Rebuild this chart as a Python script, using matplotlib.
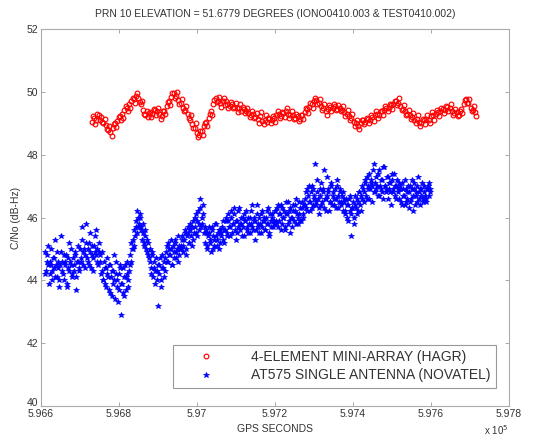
import numpy as np
import matplotlib
matplotlib.use("Agg")
import matplotlib.pyplot as plt
from matplotlib.ticker import FixedLocator, FuncFormatter
from matplotlib.transforms import ScaledTranslation

# ---------------- data ----------------
title_text = "PRN 10 ELEVATION = 51.6779 DEGREES (IONO0410.003 & TEST0410.002)"
xlabel_text = "GPS SECONDS"
ylabel_text = "C/No (dB-Hz)"
label_red = "4-ELEMENT MINI-ARRAY (HAGR)"
label_blue = "AT575 SINGLE ANTENNA (NOVATEL)"

# sampling (GPS seconds); the second array of each series is sampled in between
red_t0, red_dt = 596730, 6
blue_t0, blue_dt = 596610, 3

red_cn0_a = [
    49.05, 49.18, 49.12, 49.25,
    49.2, 49.02, 48.95, 48.8, 48.72,
    48.85, 49.0, 49.08, 49.22,
    49.3, 49.42, 49.5, 49.62, 49.7, 49.78, 49.88,
    49.8, 49.6, 49.42, 49.28,
    49.2, 49.35, 49.3, 49.42, 49.38,
    49.3, 49.22,
    49.4, 49.55, 49.7, 49.85, 49.95,
    49.88, 49.75, 49.65, 49.5, 49.42,
    49.3, 49.12, 48.98, 48.85, 48.7, 48.62,
    48.75, 48.9, 49.05, 49.18,
    49.4, 49.62, 49.8,
    49.72, 49.65, 49.7, 49.58, 49.62, 49.55, 49.6,
    49.52, 49.48, 49.5, 49.4, 49.45, 49.38,
    49.32, 49.25, 49.3, 49.2,
    49.15, 49.22, 49.08, 49.12, 49.05, 49.15, 49.1,
    49.18, 49.25, 49.3, 49.22, 49.32, 49.38,
    49.3, 49.25, 49.28, 49.18, 49.22, 49.15,
    49.28, 49.35, 49.45, 49.52, 49.6, 49.7, 49.75,
    49.65, 49.55, 49.48, 49.4,
    49.45, 49.52, 49.48, 49.55, 49.45, 49.5,
    49.42, 49.35, 49.3, 49.22, 49.18,
    49.05, 49.0, 48.92,
    49.0, 49.1, 49.05, 49.15, 49.12, 49.2,
    49.25, 49.3, 49.28, 49.38, 49.42, 49.5, 49.48, 49.58,
    49.6, 49.7, 49.66,
    49.55, 49.45, 49.4, 49.3, 49.28, 49.2,
    49.12, 49.15, 49.05, 49.02,
    49.1, 49.15, 49.12, 49.22, 49.25, 49.3, 49.35,
    49.38, 49.45, 49.42, 49.52, 49.48,
    49.4, 49.32, 49.35, 49.25,
    49.45, 49.62, 49.78,
    49.65, 49.5, 49.42, 49.35,
]

red_cn0_b = [
    49.22, 48.98, 49.3, 49.1,
    49.05, 49.15, 48.82, 48.9, 48.6,
    48.98, 48.88, 49.2, 49.1,
    49.18, 49.55, 49.38, 49.5, 49.82, 49.65, 49.98,
    49.68, 49.72, 49.3, 49.4,
    49.32, 49.2, 49.45, 49.28, 49.5,
    49.15, 49.38,
    49.3, 49.68, 49.58, 49.98, 49.82,
    50.0, 49.62, 49.78, 49.38, 49.55,
    49.18, 49.28, 48.85, 49.0, 48.58, 48.75,
    48.62, 49.02, 48.92, 49.3,
    49.28, 49.75, 49.68,
    49.85, 49.52, 49.82, 49.7, 49.48, 49.68, 49.48,
    49.65, 49.35, 49.62, 49.52, 49.32, 49.5,
    49.2, 49.38, 49.18, 49.32,
    49.02, 49.35, 48.98, 49.25, 49.18, 49.0, 49.22,
    49.05, 49.38, 49.18, 49.35, 49.2, 49.48,
    49.18, 49.38, 49.15, 49.3, 49.08, 49.28,
    49.15, 49.48, 49.32, 49.65, 49.48, 49.82, 49.62,
    49.78, 49.42, 49.6, 49.28,
    49.58, 49.4, 49.62, 49.42, 49.58, 49.38,
    49.55, 49.22, 49.42, 49.1, 49.3,
    48.92, 49.12, 48.82,
    49.12, 48.98, 49.18, 49.02, 49.25, 49.08,
    49.38, 49.18, 49.4, 49.25, 49.55, 49.38, 49.6, 49.45,
    49.72, 49.58, 49.8,
    49.42, 49.58, 49.28, 49.42, 49.15, 49.32,
    49.0, 49.28, 48.92, 49.15,
    48.98, 49.28, 49.0, 49.35, 49.12, 49.42, 49.22,
    49.5, 49.32, 49.55, 49.38, 49.6,
    49.28, 49.45, 49.22, 49.38,
    49.32, 49.75, 49.65,
    49.78, 49.38, 49.55, 49.22,
]

blue_cn0_a = [
    44.9, 44.3, 44.6, 45.1, 44.2, 44.5, 44.0, 44.7, 44.4, 45.3,
    44.1, 44.6, 43.8, 44.5, 44.9, 44.3, 44.0, 44.6, 44.8, 43.9,
    44.4, 45.2, 44.5, 44.1, 44.7, 44.3, 44.9, 43.7, 44.6, 44.4,
    45.0, 44.6, 45.7, 44.9, 44.4, 45.2, 44.7, 45.0, 44.5, 45.5,
    44.8, 44.3, 45.1, 44.9, 45.6, 44.6, 44.9,
    44.6, 44.2, 44.9, 44.0, 44.4, 43.8, 44.7, 44.1, 44.5, 43.6,
    44.3, 43.9, 44.8, 43.4, 44.2, 44.0, 43.7, 44.5, 42.9, 43.9,
    44.4, 43.5, 44.1, 44.6, 43.8, 44.3,
    44.8, 45.2, 45.0, 45.6, 45.4, 45.9, 46.2, 45.7, 46.0,
    45.6, 45.3, 45.8, 45.1, 45.4, 44.9, 45.2, 44.7,
    44.6, 44.2, 44.9, 44.4, 43.9, 44.7, 44.3, 43.2, 44.5, 44.0, 44.8, 44.4, 44.1,
    44.7, 45.1, 44.6, 45.0, 44.8, 45.3, 44.5, 44.9, 45.2, 44.7, 45.0, 45.4, 44.8,
    45.1, 45.4, 44.9, 45.3, 45.6, 45.0, 45.5, 45.2, 45.8, 45.4, 45.7, 45.3, 46.0, 45.5,
    45.9, 46.2, 45.6, 46.6, 45.8, 46.1, 45.5,
    45.2, 45.6, 45.0, 45.5, 45.3, 44.9, 45.7, 45.4, 45.1, 45.8, 45.3, 45.5, 45.0, 45.6,
    45.4, 45.9, 45.2,
    45.6, 46.0, 45.4, 45.9, 45.7, 46.2, 45.5, 45.8, 46.1, 45.3, 45.9, 45.7, 46.3, 45.6,
    45.8, 46.0, 45.4, 45.9, 46.2, 45.7, 45.5, 46.0, 45.8, 46.4, 45.6, 45.9, 45.3, 46.1,
    45.7, 46.0, 45.8, 45.5, 46.2, 45.9, 45.6, 46.0, 45.8, 46.3, 45.4, 45.9, 46.1, 45.7,
    45.9,
    46.2, 45.8, 46.4, 45.9, 46.1, 45.6, 46.3, 46.0, 45.7, 46.5, 46.1, 45.8, 46.2, 45.5,
    46.0, 46.4, 45.9, 46.2, 46.6, 45.8, 46.1, 46.3, 45.9, 46.5, 46.0,
    46.4, 46.8, 46.2, 46.7, 47.0, 46.5, 46.3, 46.9, 46.6, 47.7, 46.4, 46.8, 46.1, 46.7,
    47.1, 46.5, 46.9, 46.3, 46.6, 47.3, 46.8, 46.2, 46.5, 47.0, 46.7, 46.4, 46.9, 46.6,
    47.2, 46.3, 46.8, 46.5, 46.7, 46.2,
    46.5, 46.1, 46.4, 45.9, 46.6, 46.2, 45.4, 46.3, 46.0, 46.7, 46.3, 46.1, 46.5, 46.8,
    46.2, 46.6, 46.9,
    46.8, 47.2, 46.6, 47.0, 47.4, 46.9, 47.1, 46.5, 47.7, 46.8, 47.3, 47.0, 46.7, 47.5,
    46.9, 47.2, 46.6, 47.6, 47.0, 46.8, 47.3, 46.9, 47.1, 46.4, 47.4, 46.8, 47.0, 46.6,
    47.2, 46.9,
    46.6, 47.0, 46.4, 46.9, 46.7, 47.2, 46.5, 46.8, 46.3, 47.0, 46.6, 46.9, 46.2, 47.1,
    46.7, 46.5, 47.3, 46.8, 46.4, 46.9, 46.6, 47.0, 46.7, 46.5, 46.9, 47.1, 46.8,
]

blue_cn0_b = [
    44.2, 44.8, 44.5, 43.9, 44.6, 45.0, 44.3, 44.7, 44.1, 44.5,
    44.9, 44.4, 44.0, 45.4, 44.6, 44.2, 44.8, 44.5, 43.8, 44.7,
    44.3, 44.6, 45.0, 44.2, 44.5, 44.8, 44.1, 44.6, 45.1, 44.3,
    44.7, 45.3, 44.5, 45.0, 44.8, 45.8, 44.6, 45.2, 44.9, 44.4,
    45.1, 44.7, 45.4, 44.8, 45.0, 44.5, 45.2,
    44.8, 44.3, 44.0, 44.6, 43.9, 44.4, 44.2, 43.7, 44.5, 44.1,
    43.5, 44.3, 44.0, 44.6, 43.8, 43.3, 44.2, 44.4, 43.9, 43.6,
    44.1, 44.5, 43.7, 44.2, 44.0, 44.5,
    44.6, 45.0, 45.3, 45.1, 45.7, 45.5, 46.0, 45.8, 46.1,
    45.7, 45.5, 45.2, 45.6, 45.0, 45.3, 44.8, 45.0,
    44.4, 44.8, 44.1, 44.6, 44.3, 44.0, 44.5, 44.2, 44.7, 43.8, 44.4, 44.6, 44.3,
    44.9, 44.6, 45.2, 44.8, 45.0, 44.5, 45.1, 44.7, 45.3, 44.9, 44.6, 45.1, 45.0,
    45.0, 45.3, 45.1, 45.5, 44.8, 45.4, 45.7, 45.2, 45.6, 45.1, 45.9, 45.5, 45.7, 46.1,
    45.4, 45.8, 46.3, 45.7, 46.0, 46.4, 45.7,
    45.5, 45.1, 45.4, 45.7, 45.2, 45.6, 45.0, 45.3, 45.8, 45.4, 45.1, 45.6, 45.2, 45.5,
    45.7, 45.3, 45.6,
    45.9, 45.5, 46.1, 45.7, 45.4, 46.0, 45.8, 46.3, 45.6, 45.9, 45.5, 46.2, 45.8, 46.0,
    45.4, 45.7, 46.1, 45.9, 45.6, 46.0, 45.8, 45.5, 46.2, 45.7, 46.0, 45.9, 45.6, 46.4,
    45.8, 45.5, 46.1, 45.7, 45.9, 46.0, 45.6, 46.2, 45.8, 45.5, 46.1, 45.7, 46.0, 45.8,
    46.2,
    45.9, 46.3, 45.7, 46.1, 46.4, 45.8, 46.0, 46.2, 45.6, 46.1, 46.5, 45.9, 46.3, 46.0,
    45.7, 46.2, 46.4, 45.8, 46.1, 46.0, 46.5, 45.9, 46.3, 46.1, 46.4,
    46.6, 46.3, 46.9, 46.5, 46.2, 46.8, 47.0, 46.4, 46.7, 46.5, 47.2, 46.6, 46.3, 46.9,
    46.4, 46.8, 47.5, 46.6, 46.2, 46.7, 46.9, 46.5, 47.1, 46.4, 46.8, 46.6, 46.3, 47.0,
    46.7, 46.5, 46.9, 46.4, 46.8, 46.6,
    46.2, 46.6, 46.0, 46.4, 46.7, 46.1, 46.3, 46.5, 45.8, 46.4, 46.6, 46.2, 46.8, 46.4,
    46.7, 47.0, 46.5,
    47.1, 46.7, 47.3, 46.9, 46.6, 47.2, 47.0, 47.5, 46.8, 47.1, 46.9, 47.4, 46.7, 47.0,
    47.2, 46.8, 47.6, 47.0, 46.9, 47.3, 46.6, 47.1, 46.8, 47.2, 46.9, 47.4, 46.7, 47.0,
    46.8, 47.1,
    46.9, 46.5, 47.1, 46.7, 46.4, 46.9, 46.6, 47.0, 46.8, 46.5, 47.2, 46.7, 46.9, 46.4,
    46.8, 47.0, 46.6, 46.9, 46.7, 47.1, 46.5, 46.8, 46.6, 46.9, 47.0, 46.7, 46.9,
]

x_ticks = [596600, 596800, 597000, 597200, 597400, 597600, 597800]
y_ticks = [40, 42, 44, 46, 48, 50, 52]

red_t_a = red_t0 + red_dt * np.arange(len(red_cn0_a))
red_t_b = red_t_a + red_dt / 2
blue_t_a = blue_t0 + blue_dt * np.arange(len(blue_cn0_a))
blue_t_b = blue_t_a + blue_dt / 2

red_t = np.concatenate([red_t_a, red_t_b])
red_cn0 = np.concatenate([red_cn0_a, red_cn0_b])
blue_t = np.concatenate([blue_t_a, blue_t_b])
blue_cn0 = np.concatenate([blue_cn0_a, blue_cn0_b])

# ---------------- figure ----------------
plt.rcParams['font.family'] = ['Liberation Sans', 'DejaVu Sans']
txt = '#333333'
fig = plt.figure(figsize=(5.39, 4.45), dpi=100)
ax = fig.add_axes([0.076, 0.0876, 0.868, 0.847])

ax.plot(red_t, red_cn0, linestyle='none', marker='o', markersize=3.4,
        markerfacecolor='none', markeredgecolor='#ff0000', markeredgewidth=0.85,
        label=label_red)
ax.plot(blue_t, blue_cn0, linestyle='none', marker='*', markersize=3.8,
        color='#0000ff', markeredgewidth=0.5, label=label_blue)

ax.set_xlim(x_ticks[0], x_ticks[-1])
ax.set_ylim(y_ticks[0], y_ticks[-1])
ax.xaxis.set_major_locator(FixedLocator(x_ticks))
ax.yaxis.set_major_locator(FixedLocator(y_ticks))
ax.xaxis.set_major_formatter(FuncFormatter(lambda v, p: '%g' % (v / 1e5)))
ax.yaxis.set_major_formatter(FuncFormatter(lambda v, p: '%g' % v))
ax.tick_params(direction='in', length=3, width=0.6, colors='#999999',
               labelcolor=txt, labelsize=7.5, top=True, right=True, pad=2)
for s in ax.spines.values():
    s.set_color('#aaaaaa')
    s.set_linewidth(0.8)

# lift the bottom y label slightly, as in the original
t0 = ax.yaxis.get_major_ticks()[0]
t0.label1.set_transform(t0.label1.get_transform() +
                        ScaledTranslation(0, 3 / 72, fig.dpi_scale_trans))

ax.set_title(title_text, fontsize=7.5, color=txt, pad=9)
ax.set_xlabel(xlabel_text, fontsize=7.5, color=txt, labelpad=4)
ax.set_ylabel(ylabel_text, fontsize=7.5, color=txt, labelpad=4)
fig.text(0.92, 0.022, r'x 10$^5$', fontsize=7, color=txt, ha='center')

leg = ax.legend(loc='lower right', bbox_to_anchor=(0.972, 0.048), borderaxespad=0,
                fontsize=10, handlelength=3.94, handletextpad=1.27, labelspacing=0.3,
                borderpad=0.4, fancybox=False, framealpha=1, edgecolor='#999999',
                labelcolor=txt)
leg.get_frame().set_linewidth(0.8)

fig.savefig('out.png', dpi=100)
